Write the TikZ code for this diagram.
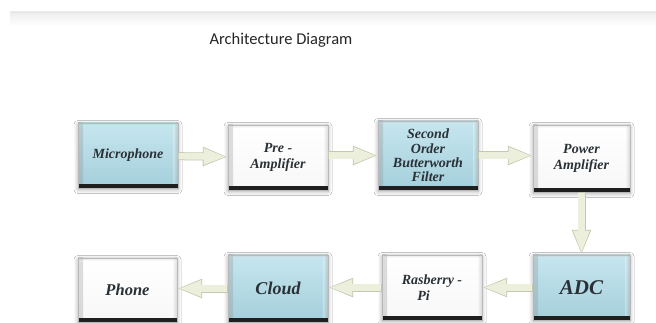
\documentclass[tikz,border=0pt]{standalone}
\usepackage{fontspec}
\setmainfont{Liberation Serif}
\newfontfamily\titlefont{Carlito}
\usetikzlibrary{arrows.meta,shadows.blur}
\definecolor{boxblueT}{HTML}{C6E6EF}
\definecolor{boxblueB}{HTML}{A4CFDB}
\definecolor{arrowfill}{HTML}{ECEFDB}
\definecolor{arrowline}{HTML}{C4C8AE}
\definecolor{boxtext}{HTML}{2A3136}
\begin{document}
\begin{tikzpicture}[x=1pt,y=-1pt,
  basebox/.style={rectangle, inner sep=2pt, align=center,
    font=\fontsize{14}{16.5}\selectfont\bfseries\itshape, text=boxtext,
    draw=gray!55, line width=0.4pt,
    blur shadow={shadow blur steps=6, shadow xshift=0pt, shadow yshift=-1.5pt, shadow opacity=35, shadow blur radius=4pt},
    path picture={
      \shade[left color=black!45, right color=white, fill opacity=0.3]
        (path picture bounding box.south west) rectangle ([xshift=5pt]path picture bounding box.north west);
      \shade[right color=black!45, left color=white, fill opacity=0.3]
        (path picture bounding box.south east) rectangle ([xshift=-5pt]path picture bounding box.north east);
      \shade[top color=black!35, bottom color=white, fill opacity=0.25]
        (path picture bounding box.north west) rectangle ([yshift=-3pt]path picture bounding box.north east);
      \fill[black!88] (path picture bounding box.south west) rectangle ([yshift=4pt]path picture bounding box.south east);
    }},
  bluebox/.style={basebox, top color=boxblueT, bottom color=boxblueB},
  whitebox/.style={basebox, top color=white, bottom color=gray!6},
  flow/.style={arrowfill, line width=6.5pt, -{Triangle[length=23pt,width=15pt]},
    shorten >=1.2pt, shorten <=0.6pt,
    preaction={draw=arrowline, line width=8pt, shorten >=0pt, shorten <=0pt, -{Triangle[length=25pt,width=17.5pt]}}}
]
\useasboundingbox (0,0) rectangle (656,323);
\fill[white] (0,0) rectangle (656,323);
% top band
\shade[top color=gray!14, bottom color=white] (10,12) rectangle (656,26);
\draw[gray!20, line width=0.6pt] (10,12) -- (656,12);
\node[font=\titlefont\fontsize{16.5}{18}\selectfont, text=black!85] (title) at (281,40) {Architecture Diagram};

% top row
\node[bluebox, minimum width=100pt, minimum height=65pt] (mic) at (128,155.5) {Microphone};
\node[whitebox, minimum width=100pt, minimum height=65pt] (pre) at (278,157.5) {Pre -\\Amplifier};
\node[bluebox, minimum width=100pt, minimum height=69pt, font=\fontsize{14}{14.3}\selectfont\bfseries\itshape] (filt) at (428,155.5) {Second\\Order\\Butterworth\\Filter};
\node[whitebox, minimum width=97pt, minimum height=67pt] (pow) at (581.5,158.5) {Power\\Amplifier};

% bottom row
\node[bluebox, minimum width=97pt, minimum height=65pt, font=\fontsize{21}{23}\selectfont\bfseries\itshape] (adc) at (581.5,287.5) {ADC};
\node[whitebox, minimum width=100pt, minimum height=65pt] (rpi) at (432,287.5) {Rasberry -\\\hspace*{-1.2em}Pi};
\node[bluebox, minimum width=100pt, minimum height=67pt, font=\fontsize{18}{20}\selectfont\bfseries\itshape] (cloud) at (278,288.5) {Cloud};
\node[whitebox, minimum width=99pt, minimum height=64pt, font=\fontsize{16.5}{18}\selectfont\bfseries\itshape] (phone) at (127.5,290) {Phone};

% connectors
\draw[flow] (mic) -- (pre);
\draw[flow] (pre.east |- mic.east) -- (filt.west |- mic.east);
\draw[flow] (filt.east) -- (pow.west |- filt.east);
\draw[flow] (pow) -- (adc);
\draw[flow] (adc) -- (rpi);
\draw[flow] (rpi) -- (cloud.east |- rpi.west);
\draw[flow] (cloud.west) -- (phone.east |- cloud.west);
\end{tikzpicture}
\end{document}
